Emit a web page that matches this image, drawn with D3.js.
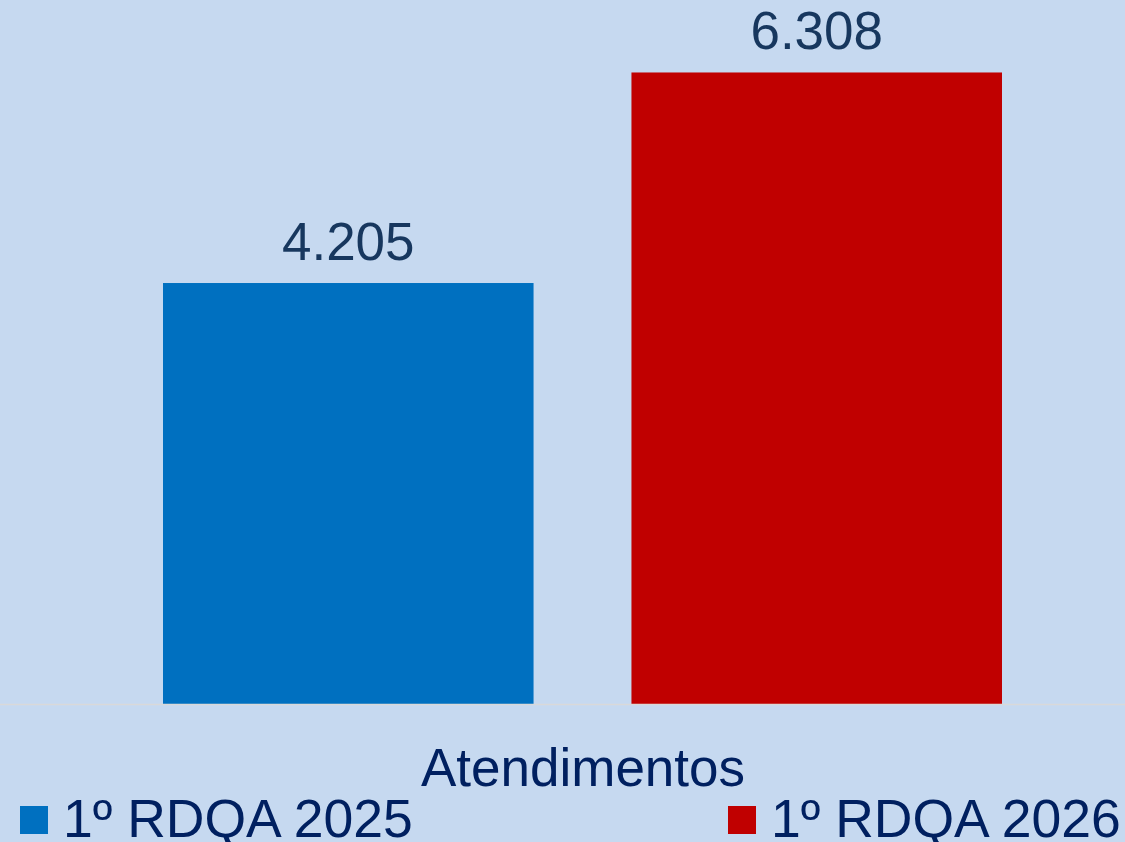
<!DOCTYPE html>
<html>
<head>
<meta charset="utf-8">
<script src="https://cdn.jsdelivr.net/npm/d3@7"></script>
<style>
  html, body { margin: 0; padding: 0; background: #C6D9F0; }
  svg { display: block; font-family: "Liberation Sans", Arial, sans-serif; }
</style>
</head>
<body>
<svg id="chart" width="1125" height="842"></svg>
<script>
// Atendimentos: 1º RDQA 2025 vs 1º RDQA 2026
const category = "Atendimentos";
const seriesNames = ["1º RDQA 2025", "1º RDQA 2026"];
const seriesValues = [4205, 6308];
const seriesColors = ["#0070C0", "#C00000"];

const W = 1125, H = 842;
const svg = d3.select("#chart");

svg.append("rect").attr("width", W).attr("height", H).attr("fill", "#C6D9F0");

const baseY = 704;
const y = d3.scaleLinear().domain([0, 7000]).range([baseY, 3.2]);

// the two bars share the category band
const x = d3.scaleBand()
  .domain(seriesNames)
  .range([163, 1002])
  .paddingInner(0.209)
  .paddingOuter(0);

const fmt = v => d3.format(",")(v).replace(/,/g, ".");

svg.selectAll("rect.bar")
  .data(seriesNames)
  .join("rect")
  .attr("class", "bar")
  .attr("x", d => x(d))
  .attr("width", x.bandwidth())
  .attr("y", (d, i) => y(seriesValues[i]))
  .attr("height", (d, i) => baseY - y(seriesValues[i]))
  .attr("fill", (d, i) => seriesColors[i]);

svg.selectAll("text.val")
  .data(seriesNames)
  .join("text")
  .attr("class", "val")
  .attr("x", d => x(d) + x.bandwidth() / 2)
  .attr("y", (d, i) => y(seriesValues[i]) - 23)
  .attr("text-anchor", "middle")
  .attr("font-size", 53)
  .attr("fill", "#17375E")
  .text((d, i) => fmt(seriesValues[i]));

// baseline
svg.append("line")
  .attr("x1", 0).attr("x2", W)
  .attr("y1", baseY + 0.5).attr("y2", baseY + 0.5)
  .attr("stroke", "#D9D9D9").attr("stroke-width", 1.5);

// category label
svg.append("text")
  .attr("x", 583)
  .attr("y", 786)
  .attr("text-anchor", "middle")
  .attr("font-size", 53)
  .attr("fill", "#002060")
  .text(category);

// legend
const legendX = [20, 728];
const legend = svg.selectAll("g.leg")
  .data(seriesNames)
  .join("g")
  .attr("class", "leg")
  .attr("transform", (d, i) => `translate(${legendX[i]},0)`);

legend.append("rect")
  .attr("x", 0).attr("y", 806)
  .attr("width", 28).attr("height", 28)
  .attr("fill", (d, i) => seriesColors[i]);

legend.append("text")
  .attr("x", 43)
  .attr("y", 837)
  .attr("font-size", 53.5)
  .attr("fill", "#002060")
  .text(d => d);
</script>
</body>
</html>
